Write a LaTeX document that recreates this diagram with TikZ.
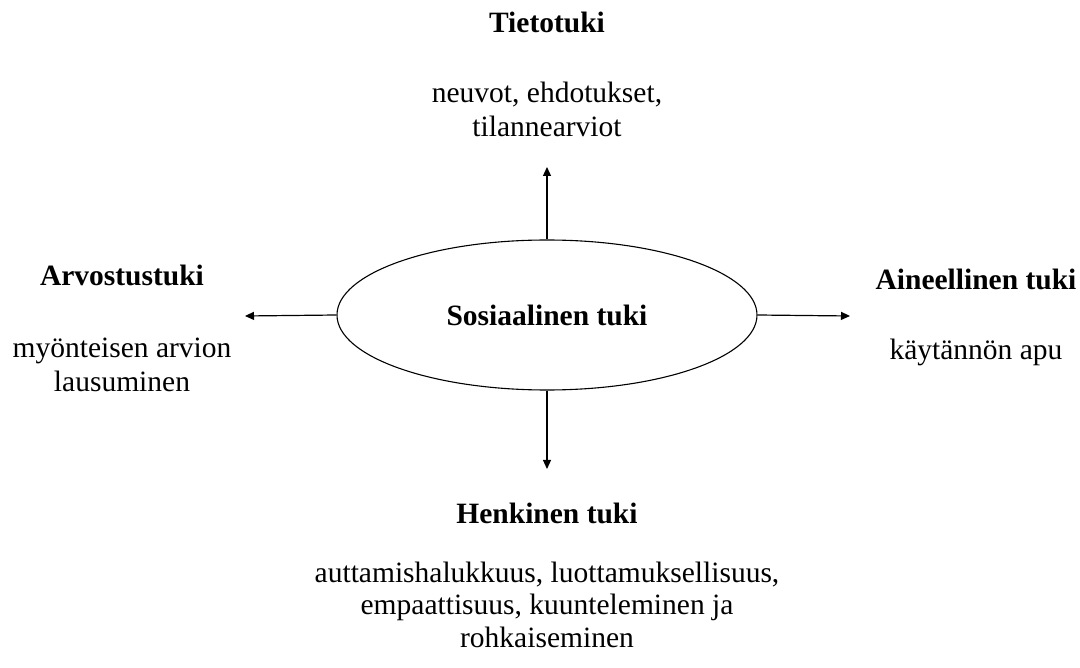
\documentclass[tikz,border=0pt]{standalone}
\usepackage{fontspec}
\setmainfont{Liberation Serif}
\usetikzlibrary{arrows.meta,shapes.geometric}
\begin{document}
\begin{tikzpicture}[x=1pt,y=-1pt,
  txt/.style={inner sep=0pt,outer sep=0pt,anchor=base,align=center,font=\fontsize{29.5}{34}\selectfont},
  hd/.style={txt,font=\fontsize{29.5}{34}\selectfont\bfseries},
  arr/.style={line width=1.2pt,-{Triangle[length=9pt,width=8pt]}}]
\useasboundingbox (0,0) rectangle (1080,668);
\node[draw,ellipse,line width=1.1pt,minimum width=420pt,minimum height=150pt,inner sep=0pt,
  font=\fontsize{29.5}{34}\selectfont\bfseries] (c) at (547,315) {Sosiaalinen tuki};
\node[hd] (t1) at (547,33) {Tietotuki};
\node[txt] (t2) at (547,137) {neuvot, ehdotukset,\\tilannearviot};
\node[hd] (a1) at (122,286) {Arvostustuki};
\node[txt] (a2) at (122,392) {myönteisen arvion\\lausuminen};
\node[hd] (m1) at (976,290) {Aineellinen tuki};
\node[txt] (m2) at (976,360) {käytännön apu};
\node[hd] (h1) at (547,523) {Henkinen tuki};
\node[txt,font=\fontsize{29.5}{32.5}\selectfont] (h2) at (547,647) {auttamishalukkuus, luottamuksellisuus,\\empaattisuus, kuunteleminen ja\\rohkaiseminen};
\coordinate (pn) at (547,167);
\coordinate (ps) at (547,469);
\coordinate (pw) at (245,316);
\coordinate (pe) at (850,316);
\draw[arr] (c.north) -- (pn);
\draw[arr] (c.south) -- (ps);
\draw[arr] (c.west) -- (pw);
\draw[arr] (c.east) -- (pe);
\end{tikzpicture}
\end{document}
